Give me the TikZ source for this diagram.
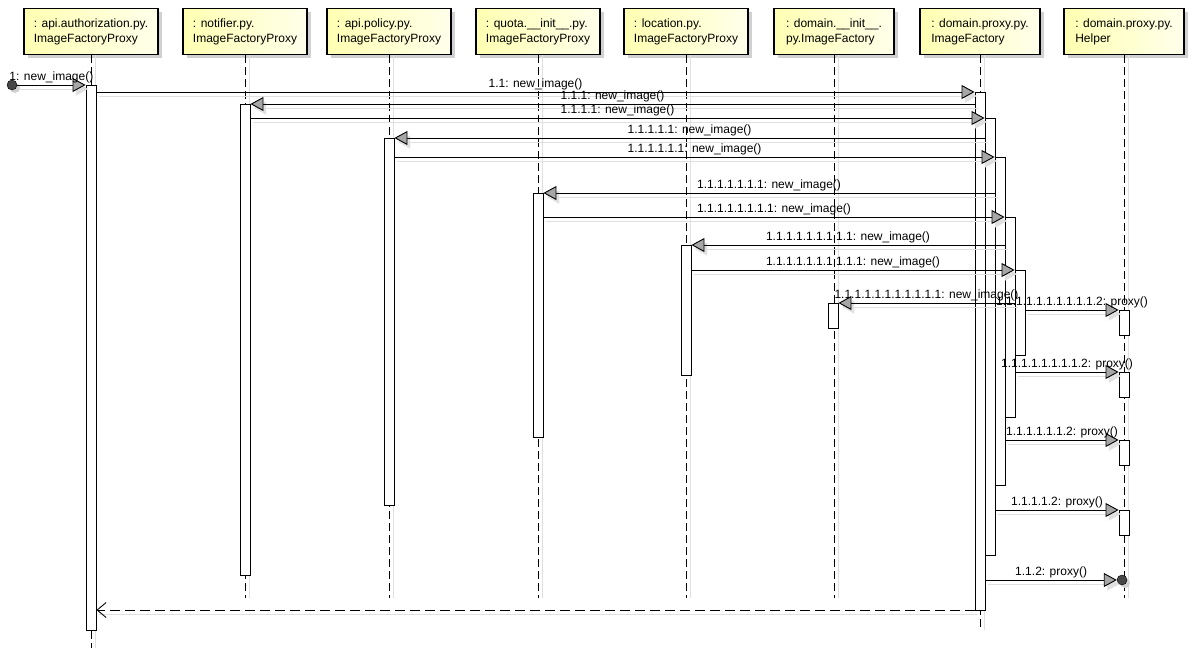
\documentclass[tikz,border=0pt]{standalone}
\usepackage{fontspec}
\setmainfont{Liberation Sans}
\usetikzlibrary{arrows.meta,positioning,calc,shadows}

\newcommand{\actbar}[4]{\node[actbox, minimum height={#4pt-#3pt}] (#1) at (#2,{(#3+#4)/2}) {};}

\begin{document}
\begin{tikzpicture}[x=1pt, y=-1pt,
  every node/.style={font=\fontsize{12}{15}\selectfont},
  head/.style={draw, line width=1.6pt, align=left, inner xsep=10pt, minimum width=120pt, minimum height=46pt,
    left color=yellow!30, right color=yellow!8,
    drop shadow={shadow xshift=4pt, shadow yshift=-4pt, fill=black!18, opacity=1}},
  life/.style={dash pattern=on 8pt off 4pt, line width=0.8pt,
    preaction={draw=black!12, solid, transform canvas={xshift=4.5pt}}},
  actbox/.style={draw, fill=white, minimum width=10pt, inner sep=0pt, line width=0.9pt},
  msg/.style={-{Triangle[length=13pt,width=14pt,fill=gray!70]}, line width=0.9pt,
    preaction={draw=black!12, -{Triangle[length=13pt,width=14pt]}, transform canvas={shift={(3pt,-4pt)}}}},
  ret/.style={-{Straight Barb[length=9pt,width=15pt]}, dash pattern=on 10pt off 5pt, line width=0.9pt,
    preaction={draw=black!12, solid, -, transform canvas={shift={(3pt,-4pt)}}}},
  blob/.style={circle, draw, fill=gray!55!black, minimum size=10pt, inner sep=0pt,
    drop shadow={shadow xshift=3pt, shadow yshift=-3pt, fill=black!18, opacity=1}},
  lbl/.style={above, inner sep=1.5pt}
]
\useasboundingbox (0,0) rectangle (1193,650);

\node[head] (auth) at (91,31.5) {: api.authorization.py.\\ImageFactoryProxy};
\node[head] (notif) at (245,31.5) {: notifier.py.\\ImageFactoryProxy};
\node[head] (pol) at (389,31.5) {: api.policy.py.\\ImageFactoryProxy};
\node[head] (quota) at (538,31.5) {: quota.\_\_init\_\_.py.\\ImageFactoryProxy};
\node[head] (loc) at (686,31.5) {: location.py.\\ImageFactoryProxy};
\node[head] (dinit) at (834,31.5) {: domain.\_\_init\_\_.\\py.ImageFactory};
\node[head] (dproxy) at (980,31.5) {: domain.proxy.py.\\ImageFactory};
\node[head] (helper) at (1124,31.5) {: domain.proxy.py.\\Helper};

\foreach \n/\e in {auth/648, notif/598, pol/598, quota/598, loc/598, dinit/598, dproxy/630, helper/598}
  \draw[life] (\n.south) -- (\n.south |- 0,\e);

\actbar{abar}{91}{85}{630}
\actbar{nbar}{245}{104}{575}
\actbar{pbar}{389}{138}{505}
\actbar{qbar}{538}{193}{437}
\actbar{lbar}{686}{245}{375}
\actbar{dbar}{833}{303}{328}
\actbar{pa}{980}{92}{610}
\actbar{pb}{990}{118}{555}
\actbar{pc}{1000}{157}{485}
\actbar{pd}{1010}{217}{417}
\actbar{pe}{1020}{270}{355}
\actbar{ha}{1124}{310}{335}
\actbar{hb}{1124}{372}{397}
\actbar{hc}{1124}{440}{465}
\actbar{hd}{1124}{510}{535}

\node[blob] (found) at (12,85) {};
\node[blob] (lost) at (1122,580) {};

\draw[msg] (found) -- (abar.west |- 0,85) node[midway,lbl]{1: new\_image()};
\draw[msg] (abar.east |- 0,92) -- (pa.west |- 0,92) node[midway,lbl]{1.1: new\_image()};
\draw[msg] (pa.west |- 0,104) -- (nbar.east |- 0,104) node[midway,lbl]{1.1.1: new\_image()};
\draw[msg] (nbar.east |- 0,118) -- (pb.west |- 0,118) node[midway,lbl]{1.1.1.1: new\_image()};
\draw[msg] (pb.west |- 0,138) -- (pbar.east |- 0,138) node[midway,lbl]{1.1.1.1.1: new\_image()};
\draw[msg] (pbar.east |- 0,157) -- (pc.west |- 0,157) node[midway,lbl]{1.1.1.1.1.1: new\_image()};
\draw[msg] (pc.west |- 0,193) -- (qbar.east |- 0,193) node[midway,lbl]{1.1.1.1.1.1.1: new\_image()};
\draw[msg] (qbar.east |- 0,217) -- (pd.west |- 0,217) node[midway,lbl]{1.1.1.1.1.1.1.1: new\_image()};
\draw[msg] (pd.west |- 0,245) -- (lbar.east |- 0,245) node[midway,lbl]{1.1.1.1.1.1.1.1.1: new\_image()};
\draw[msg] (lbar.east |- 0,270) -- (pe.west |- 0,270) node[midway,lbl]{1.1.1.1.1.1.1.1.1.1: new\_image()};
\draw[msg] (pe.west |- 0,303) -- (dbar.east |- 0,303) node[midway,lbl]{1.1.1.1.1.1.1.1.1.1.1: new\_image()};
\draw[msg] (pe.east |- 0,310) -- (ha.west |- 0,310) node[midway,lbl]{1.1.1.1.1.1.1.1.1.1.2: proxy()};
\draw[msg] (pd.east |- 0,372) -- (hb.west |- 0,372) node[midway,lbl]{1.1.1.1.1.1.1.1.2: proxy()};
\draw[msg] (pc.east |- 0,440) -- (hc.west |- 0,440) node[midway,lbl]{1.1.1.1.1.1.2: proxy()};
\draw[msg] (pb.east |- 0,510) -- (hd.west |- 0,510) node[midway,lbl]{1.1.1.1.2: proxy()};
\draw[msg] (pa.east |- 0,580) -- (lost.west) node[midway,lbl]{1.1.2: proxy()};
\draw[ret] (pa.west |- 0,610) -- (abar.east |- 0,610);
\end{tikzpicture}
\end{document}
